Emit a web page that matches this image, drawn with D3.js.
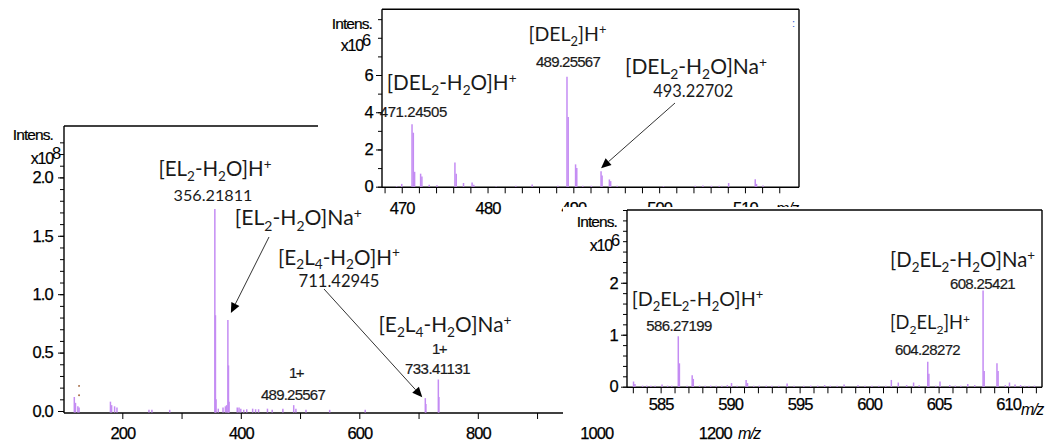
<!DOCTYPE html>
<html><head><meta charset="utf-8">
<script src="https://cdn.jsdelivr.net/npm/d3@7"></script>
<style>body{margin:0;background:#fff}svg{display:block}</style>
</head><body>
<svg id="c" width="1045" height="443"></svg>
<script>
// ---------------- DATA ----------------
// Main spectrum (intensity x10^8)
const mainMz =     [119, 121, 125, 127, 180, 182, 187, 191, 245, 250, 280, 356.2, 357.2, 358.2, 362, 370, 374, 376, 378.2, 379.2, 380.2, 394, 397, 400, 405, 410, 420, 425, 430, 445, 453, 471, 489.3, 493, 510, 550, 610, 711.4, 712.4, 733.4, 734.4];
const mainIntens = [0.12,0.07,0.04,0.03,0.08,0.05,0.04,0.03,0.01,0.01,0.01, 1.73, 0.82, 0.10, 0.02,0.03,0.04,0.05, 0.78, 0.39, 0.08, 0.03,0.03,0.02,0.01,0.015,0.02,0.015,0.015,0.02,0.01,0.02,0.05, 0.02,0.01,0.01,0.01, 0.11, 0.06, 0.27, 0.12];
const mainMarkMz = [127, 127];
const mainMarkIntens = [0.215, 0.135];
// Upper inset (intensity x10^6)
const topMz =     [469.4, 470.0, 471.2, 471.35, 471.5, 472.2, 472.35, 473.2, 474.1, 476.2, 476.35, 477.2, 478.2, 478.4, 481.0, 483.3, 485.2, 488.2, 489.26, 489.4, 490.26, 490.4, 491.1, 492.1, 493.23, 493.35, 494.2, 494.35, 495.1, 500.5, 504.2, 505.1, 506.1, 507.0, 508.1, 511.2, 511.35, 512.1];
const topIntens = [0.03,  0.15,  3.36,  2.9,    0.8,   0.7,   0.55,   0.1,   0.08,  1.3,   0.7,    0.2,   0.22,  0.1,   0.03,  0.05,  0.12,  0.05,  5.9,    3.75,  1.2,    1.0,   0.05,  0.05,  0.83,   0.6,    0.39,  0.3,    0.05,  0.03,  0.05,  0.06,  0.05,  0.05,  0.2,   0.4,   0.15,   0.06];
// Right inset (intensity x10^6)
const rightMz =     [583.05,583.15,583.7,584.0,584.3,584.6,585.1,585.5,585.8,586.27,586.35,586.9,587.27,587.35,587.8,588.2,588.6,589.0,589.4,589.8,590.1,590.5,591.15,591.25,591.7,592.1,592.6,593.0,593.5,594.1,594.6,595.3,595.8,596.3,596.8,597.2,597.7,598.2,599.2,599.7,600.2,600.7,601.2,601.6,602.1,602.7,603.2,603.6,604.22,604.3,604.8,605.1,605.8,606.2,606.6,607.1,607.6,608.2,608.28,609.2,609.28,609.8,610.1,610.5,610.9,611.2,611.5,611.9];
const rightIntens = [0.10,  0.05,  0.02, 0.02, 0.02, 0.02, 0.04, 0.02, 0.02, 0.97,  0.45,  0.02, 0.22,  0.15,  0.02, 0.02, 0.02, 0.02, 0.02, 0.03, 0.07, 0.02, 0.13,  0.07,  0.02, 0.02, 0.02, 0.02, 0.02, 0.06, 0.02, 0.02, 0.02, 0.02, 0.03, 0.02, 0.02, 0.04, 0.03, 0.02, 0.02, 0.02, 0.02, 0.13, 0.08, 0.03, 0.08, 0.03, 0.48,  0.25,  0.02, 0.10, 0.03, 0.02, 0.02, 0.05, 0.03, 1.85,  0.30,  0.45,  0.30,  0.03, 0.08, 0.04, 0.03, 0.02, 0.02, 0.02];

// tick labels
const mainXLabels = [200, 400, 600, 800, 1000, 1200];
const mainYLabels = [0, 0.5, 1.0, 1.5, 2.0];
const topXLabels = [470, 480, 490, 500, 510];
const topYLabels = [0, 2, 4, 6];
const rightXLabels = [585, 590, 595, 600, 605, 610];
const rightYLabels = [0, 1, 2];
const mainExp = "8", topExp = "6", rightExp = "6";

// annotation texts (_x = subscript, ^x = superscript)
const annMain = ["[EL_2-H_2O]H^+", "356.21811", "[EL_2-H_2O]Na^+", "[E_2L_4-H_2O]H^+", "711.42945", "[E_2L_4-H_2O]Na^+", "1+", "733.41131", "1+", "489.25567"];
const annTop = ["[DEL_2-H_2O]H^+", "471.24505", "[DEL_2]H^+", "489.25567", "[DEL_2-H_2O]Na^+", "493.22702"];
const annRight = ["[D_2EL_2-H_2O]H^+", "586.27199", "[D_2EL_2-H_2O]Na^+", "608.25421", "[D_2EL_2]H^+", "604.28272"];

// ---------------- LAYOUT ----------------
const PEAK = "#c48cf3";
const TICKFONT = '"Liberation Sans", Arial, sans-serif';
const svg = d3.select("#c");

const xMain = d3.scaleLinear().domain([100, 1300]).range([63.05, 774.05]);
const yMain = d3.scaleLinear().domain([0, 2.44]).range([411, 126]);
const xTop = d3.scaleLinear().domain([467.7, 516.3]).range([382, 799]);
const yTop = d3.scaleLinear().domain([0, 9.53]).range([186.7, 9.3]);
const xRight = d3.scaleLinear().domain([582.58, 612.44]).range([627, 1042]);
const yRight = d3.scaleLinear().domain([0, 3.4]).range([386.7, 210]);

function styleTicks(g, ls){
  g.select(".domain").remove();
  g.selectAll(".tick line").attr("stroke", "#000").attr("stroke-width", 1);
  g.selectAll(".tick text").attr("font-family", TICKFONT).attr("font-size", 16.5)
    .attr("letter-spacing", ls).attr("fill", "#000").attr("stroke", "#000").attr("stroke-width", 0.25);
}

function panel(cfg){
  const g = svg.append("g");
  const {x, y, axisY, axisX1, top, right} = cfg;
  g.append("g").attr("transform", `translate(${cfg.left},0)`)
    .call(d3.axisLeft(y).tickValues(cfg.yMinor).tickSize(4).tickFormat(""))
    .call(s => styleTicks(s, 0));
  g.append("g").attr("transform", `translate(${cfg.left},0)`)
    .call(d3.axisLeft(y).tickValues(cfg.yMajor).tickSize(6).tickPadding(cfg.yPad).tickFormat(cfg.yFmt))
    .call(s => styleTicks(s, -0.8));
  g.append("g").attr("transform", `translate(0,${axisY})`)
    .call(d3.axisBottom(x).tickValues(cfg.xMinor).tickSize(6).tickFormat(""))
    .call(s => styleTicks(s, 0));
  g.append("g").attr("transform", `translate(0,${axisY})`)
    .call(d3.axisBottom(x).tickValues(cfg.xMajor).tickSize(0).tickPadding(cfg.xPad).tickFormat(d3.format("d")))
    .call(s => styleTicks(s, -0.9));
  const fr = g.append("g").attr("stroke", "#000").attr("stroke-width", 1.4).attr("fill", "none");
  fr.append("line").attr("x1", cfg.left).attr("x2", cfg.left).attr("y1", top).attr("y2", axisY);
  fr.append("line").attr("x1", cfg.left).attr("x2", axisX1).attr("y1", axisY).attr("y2", axisY);
  fr.append("line").attr("x1", cfg.left).attr("x2", cfg.topX1).attr("y1", top).attr("y2", top);
  if (right) fr.append("line").attr("x1", axisX1).attr("x2", axisX1).attr("y1", top).attr("y2", axisY);
  g.append("g").selectAll("line").data(cfg.mz).join("line")
    .attr("x1", d => x(d)).attr("x2", d => x(d))
    .attr("y1", axisY - 0.5).attr("y2", (d, i) => y(cfg.val[i]))
    .attr("stroke", PEAK).attr("stroke-width", 1.5);
  g.append("text").attr("x", cfg.mzX).attr("y", cfg.mzY).text("m/z")
    .attr("font-family", TICKFONT).attr("font-size", 16).attr("font-style", "italic").attr("letter-spacing", -1.2);
  g.append("text").attr("x", cfg.intX).attr("y", cfg.intY).attr("text-anchor", "end").text("Intens.")
    .attr("font-family", TICKFONT).attr("font-size", 15.5).attr("letter-spacing", -0.9)
    .attr("stroke", "#000").attr("stroke-width", 0.2);
  g.append("text").attr("x", cfg.expX).attr("y", cfg.expY).attr("text-anchor", "end").text("x10")
    .attr("font-family", TICKFONT).attr("font-size", 16).attr("letter-spacing", -1.2)
    .attr("stroke", "#000").attr("stroke-width", 0.2);
  g.append("text").attr("x", cfg.expX - 1).attr("y", cfg.expY - 5.5).text(cfg.exp)
    .attr("font-family", TICKFONT).attr("font-size", 16.5);
  return g;
}

function parseRich(s){
  const parts = []; let i = 0;
  while (i < s.length){
    const c = s[i];
    if ((c === "_" || c === "^") && i + 1 < s.length){ parts.push({t: s[i+1], k: c === "_" ? "sub" : "sup"}); i += 2; }
    else { if (parts.length && parts[parts.length-1].k === "n") parts[parts.length-1].t += c; else parts.push({t: c, k: "n"}); i++; }
  }
  return parts;
}
function buildRich(t, parts, fs){
  t.selectAll("tspan").remove();
  let off = 0;
  parts.forEach(p => {
    const target = p.k === "sub" ? 0.24 * fs : p.k === "sup" ? -0.36 * fs : 0;
    t.append("tspan").attr("dy", target - off).attr("font-size", p.k === "n" ? fs : fs * 0.66).text(p.t);
    off = target;
  });
}
function label(g, text, cx, cy, w, kind){
  const t = g.append("text").attr("fill", "#1a1a1a");
  const parts = parseRich(text);
  let fs;
  if (kind === "c"){
    t.attr("font-family", 'Lato, "Open Sans", sans-serif');
    fs = 20; buildRich(t, parts, fs);
    const w0 = t.node().getComputedTextLength();
    fs = fs * w / w0; buildRich(t, parts, fs);
    t.attr("x", cx - w / 2).attr("y", cy + 0.34 * fs);
  } else {
    fs = 15;
    t.attr("font-family", TICKFONT).attr("stroke", "#1a1a1a").attr("stroke-width", 0.2);
    buildRich(t, parts, fs);
    const w0 = t.node().getComputedTextLength();
    t.attr("letter-spacing", (w - w0) / text.length);
    t.attr("x", cx - w / 2).attr("y", cy + 0.36 * fs);
  }
}
function arrow(g, sx, sy, tx, ty){
  const ang = Math.atan2(ty - sy, tx - sx), L = 10, Wd = 4.5;
  const bx = tx - L * Math.cos(ang), by = ty - L * Math.sin(ang);
  g.append("line").attr("x1", sx).attr("y1", sy).attr("x2", bx).attr("y2", by).attr("stroke", "#333").attr("stroke-width", 1);
  const px = -Math.sin(ang) * Wd, py = Math.cos(ang) * Wd;
  g.append("path").attr("d", `M${tx},${ty}L${bx+px},${by+py}L${bx-px},${by-py}Z`).attr("fill", "#000");
}

// ---------------- MAIN PANEL ----------------
const gMain = panel({x: xMain, y: yMain, left: 64, top: 126, axisY: 413, axisX1: 800, topX1: 360, right: false,
  yMinor: d3.range(0, 24).map(i => i / 10), yMajor: mainYLabels, yPad: 5, yFmt: d3.format(".1f"),
  xMinor: d3.range(200, 1300, 100), xMajor: mainXLabels, xPad: 14,
  mz: mainMz, val: mainIntens, mzX: 738, mzY: 439, intX: 53, intY: 139.5, expX: 53, expY: 164, exp: mainExp});
gMain.append("g").selectAll("circle").data(mainMarkMz).join("circle")
  .attr("cx", d => xMain(d)).attr("cy", (d, i) => yMain(mainMarkIntens[i])).attr("r", 0.9).attr("fill", "#9a5a30");

// ---------------- UPPER INSET ----------------
svg.append("rect").attr("x", 318).attr("y", 0).attr("width", 482).attr("height", 200).attr("fill", "#fff");
const gTop = panel({x: xTop, y: yTop, left: 382, top: 9.3, axisY: 187.3, axisX1: 799, topX1: 799, right: true,
  yMinor: d3.range(0, 10), yMajor: topYLabels, yPad: 3, yFmt: d3.format("d"),
  xMinor: d3.range(468, 516, 2), xMajor: topXLabels, xPad: 15,
  mz: topMz, val: topIntens, mzX: 776, mzY: 214, intX: 372, intY: 28.5, expX: 363, expY: 51, exp: topExp});
gTop.append("text").attr("x", 792).attr("y", 27).text(":").attr("fill", "#3060d0").attr("font-size", 11).attr("font-family", TICKFONT);
label(gTop, annTop[0], 451.7, 83, 130, "c");
label(gTop, annTop[1], 413.3, 112, 67, "t");
label(gTop, annTop[2], 567.5, 34.5, 78, "c");
label(gTop, annTop[3], 568, 62, 64, "t");
label(gTop, annTop[4], 696, 67, 142, "c");
label(gTop, annTop[5], 693.3, 91.5, 80, "c");
arrow(gTop, 675, 103, xTop(493.23), yTop(0.83) - 3);

// ---------------- MAIN LABELS ----------------
label(gMain, annMain[0], 215, 169.5, 113, "c");
label(gMain, annMain[1], 213, 195.5, 79, "c");
label(gMain, annMain[2], 298.3, 218.3, 127, "c");
label(gMain, annMain[3], 339, 257.5, 122, "c");
label(gMain, annMain[4], 339, 281, 81, "c");
label(gMain, annMain[5], 445, 325, 133, "c");
label(gMain, annMain[6], 439, 348.5, 14, "t");
label(gMain, annMain[7], 437.5, 368.5, 65, "t");
label(gMain, annMain[8], 296, 373, 14, "t");
label(gMain, annMain[9], 293, 395, 64, "t");
arrow(gMain, 269, 237, xMain(378.2) + 3, yMain(0.78) - 7);
arrow(gMain, 324, 289, xMain(711.4) - 3, yMain(0.11) - 1);

// ---------------- RIGHT INSET ----------------
svg.append("rect").attr("x", 563).attr("y", 207).attr("width", 482).attr("height", 215).attr("fill", "#fff");
const gRight = panel({x: xRight, y: yRight, left: 627, top: 210, axisY: 387.3, axisX1: 1042, topX1: 1042, right: true,
  yMinor: d3.range(0, 18).map(i => i / 5), yMajor: rightYLabels, yPad: 3, yFmt: d3.format("d"),
  xMinor: d3.range(583, 613, 1), xMajor: rightXLabels, xPad: 11,
  mz: rightMz, val: rightIntens, mzX: 1021, mzY: 415, intX: 617, intY: 227, expX: 612, expY: 251, exp: rightExp});
label(gRight, annRight[0], 697.5, 299.5, 131.7, "c");
label(gRight, annRight[1], 679, 325.5, 65.7, "t");
label(gRight, annRight[2], 962.5, 260.5, 145, "c");
label(gRight, annRight[3], 982.5, 283.5, 65, "t");
label(gRight, annRight[4], 930, 323, 80, "c");
label(gRight, annRight[5], 927.5, 350, 65, "t");
</script>
</body></html>
